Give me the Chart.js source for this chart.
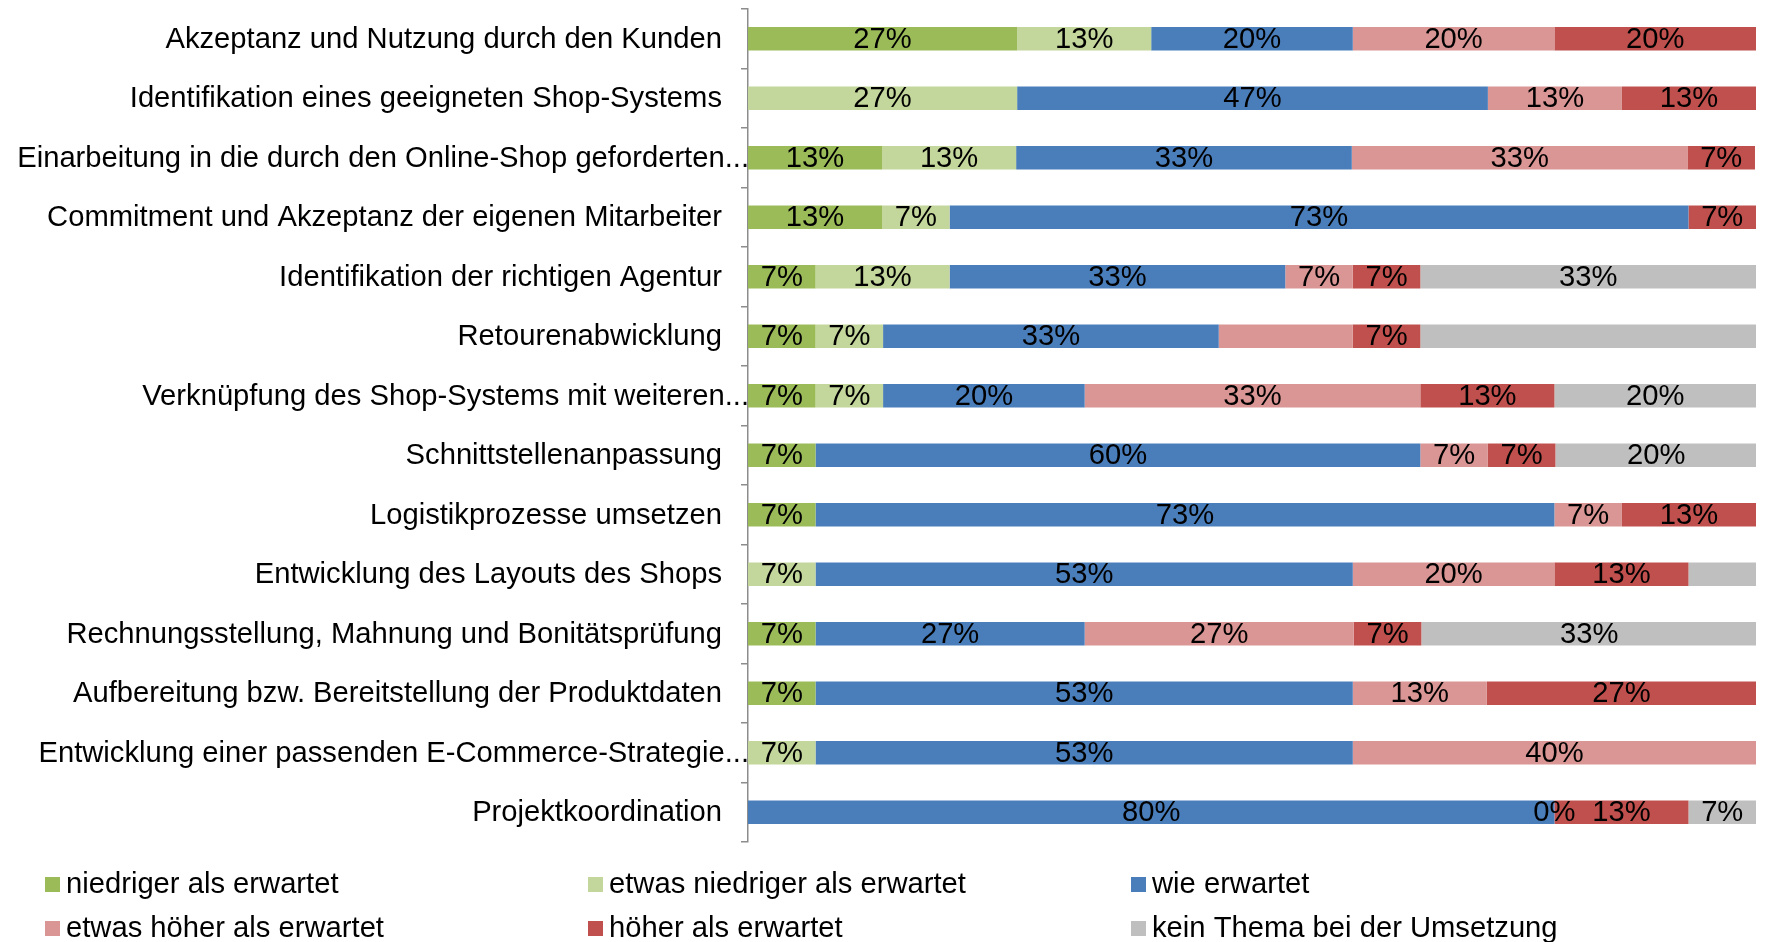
<!DOCTYPE html>
<html>
<head>
<meta charset="utf-8">
<script src="https://cdn.jsdelivr.net/npm/chart.js@4/dist/chart.umd.min.js"></script>
<style>
  html, body { margin: 0; padding: 0; background: #ffffff; }
  #wrap { width: 1767px; height: 942px; position: relative; }
</style>
</head>
<body>
<div id="wrap"><canvas id="c" width="1767" height="942"></canvas></div>
<script>
// ---- data (percent of respondents) ----
const categories = [
  "Akzeptanz und Nutzung durch den Kunden",
  "Identifikation eines geeigneten Shop-Systems",
  "Einarbeitung in die durch den Online-Shop geforderten...",
  "Commitment und Akzeptanz der eigenen Mitarbeiter",
  "Identifikation der richtigen Agentur",
  "Retourenabwicklung",
  "Verknüpfung des Shop-Systems mit weiteren...",
  "Schnittstellenanpassung",
  "Logistikprozesse umsetzen",
  "Entwicklung des Layouts des Shops",
  "Rechnungsstellung, Mahnung und Bonitätsprüfung",
  "Aufbereitung bzw. Bereitstellung der Produktdaten",
  "Entwicklung einer passenden E-Commerce-Strategie...",
  "Projektkoordination"
];
const seriesNames = [
  "niedriger als erwartet",
  "etwas niedriger als erwartet",
  "wie erwartet",
  "etwas höher als erwartet",
  "höher als erwartet",
  "kein Thema bei der Umsetzung"
];
const niedriger      = [26.7, null, 13.3, 13.3, 6.7, 6.7, 6.7, 6.7, 6.7, null, 6.7, 6.7, null, null];
const etwasNiedriger = [13.3, 26.7, 13.3, 6.7, 13.3, 6.7, 6.7, null, null, 6.7, null, null, 6.7, null];
const wieErwartet    = [20, 46.7, 33.3, 73.3, 33.3, 33.3, 20, 60, 73.3, 53.3, 26.7, 53.3, 53.3, 80];
const etwasHoeher    = [20, 13.3, 33.3, null, 6.7, 13.3, 33.3, 6.7, 6.7, 20, 26.7, 13.3, 40, 0];
const hoeher         = [20, 13.3, 6.7, 6.7, 6.7, 6.7, 13.3, 6.7, 13.3, 13.3, 6.7, 26.7, null, 13.3];
const keinThema      = [null, null, null, null, 33.3, 33.3, 20, 20, null, 6.7, 33.3, null, null, 6.7];
// labels that are not shown in the picture: [category index, series index]
const hiddenLabels = [[5, 3], [5, 5], [9, 5]];

const seriesValues = [niedriger, etwasNiedriger, wieErwartet, etwasHoeher, hoeher, keinThema];
const seriesColors = ["#9BBB59", "#C3D69B", "#4A7EBB", "#D99694", "#C0504D", "#BFBFBF"];

const FONT = "'Liberation Sans', Arial, sans-serif";
const FS = 29.2;

const datasets = seriesNames.map((name, i) => ({
  label: name,
  data: seriesValues[i],
  backgroundColor: seriesColors[i],
  borderWidth: 0,
  barPercentage: 0.393,
  categoryPercentage: 1.0
}));

// category labels: right-aligned next to the axis; truncated labels (ending in "...") run up to the axis
const categoryLabels = {
  id: 'categoryLabels',
  afterDraw(chart) {
    const ctx = chart.ctx;
    const ys = chart.scales.y;
    ctx.save();
    ctx.font = FS + "px " + FONT;
    ctx.fillStyle = "#000000";
    ctx.textBaseline = "middle";
    ctx.textAlign = "right";
    chart.data.labels.forEach((lab, i) => {
      const y = ys.getPixelForValue(i) + 1;
      const edge = lab.endsWith("...") ? ys.right + 1 : ys.right - 26;
      ctx.fillText(lab, edge, y);
    });
    ctx.restore();
  }
};

const valueLabels = {
  id: 'valueLabels',
  afterDatasetsDraw(chart) {
    const ctx = chart.ctx;
    ctx.save();
    ctx.font = FS + "px " + FONT;
    ctx.fillStyle = "#000000";
    ctx.textAlign = "center";
    ctx.textBaseline = "middle";
    chart.data.datasets.forEach((ds, di) => {
      const meta = chart.getDatasetMeta(di);
      meta.data.forEach((el, idx) => {
        const v = ds.data[idx];
        if (v === null || v === undefined) return;
        if (hiddenLabels.some(h => h[0] === idx && h[1] === di)) return;
        const cx = (el.x + el.base) / 2;
        ctx.fillText(Math.round(v) + "%", cx, el.y + 1);
      });
    });
    ctx.restore();
  }
};

const gridLegend = {
  id: 'gridLegend',
  afterDraw(chart) {
    const ctx = chart.ctx;
    ctx.save();
    ctx.font = FS + "px " + FONT;
    ctx.textBaseline = "middle";
    ctx.textAlign = "left";
    chart.data.datasets.forEach((ds, i) => {
      const col = i % 3, row = Math.floor(i / 3);
      const x = 45 + col * 543;
      const y = 884 + row * 44;
      ctx.fillStyle = ds.backgroundColor;
      ctx.fillRect(x, y - 7, 15, 15);
      ctx.fillStyle = "#000000";
      ctx.fillText(ds.label, x + 21, y + 1);
    });
    ctx.restore();
  }
};

new Chart(document.getElementById('c'), {
  type: 'bar',
  data: { labels: categories, datasets: datasets },
  options: {
    indexAxis: 'y',
    responsive: false,
    animation: false,
    layout: { padding: { top: 9, bottom: 100, right: 11, left: 0 } },
    plugins: {
      legend: { display: false },
      tooltip: { enabled: false }
    },
    scales: {
      x: {
        stacked: true,
        min: 0,
        max: 100,
        display: false
      },
      y: {
        stacked: true,
        afterFit(scale) {
          scale.width = 748;
          scale.paddingTop = 0;
          scale.paddingBottom = 0;
        },
        border: { display: true, color: "#8C8C8C", width: 1.5 },
        grid: {
          display: true,
          drawOnChartArea: false,
          drawTicks: true,
          tickLength: 7,
          color: "#8C8C8C",
          lineWidth: 1.5,
          offset: true
        },
        ticks: {
          color: "rgba(0,0,0,0)",
          padding: 20,
          font: { family: FONT, size: 12 },
          autoSkip: false
        }
      }
    }
  },
  plugins: [valueLabels, categoryLabels, gridLegend]
});
</script>
</body>
</html>
